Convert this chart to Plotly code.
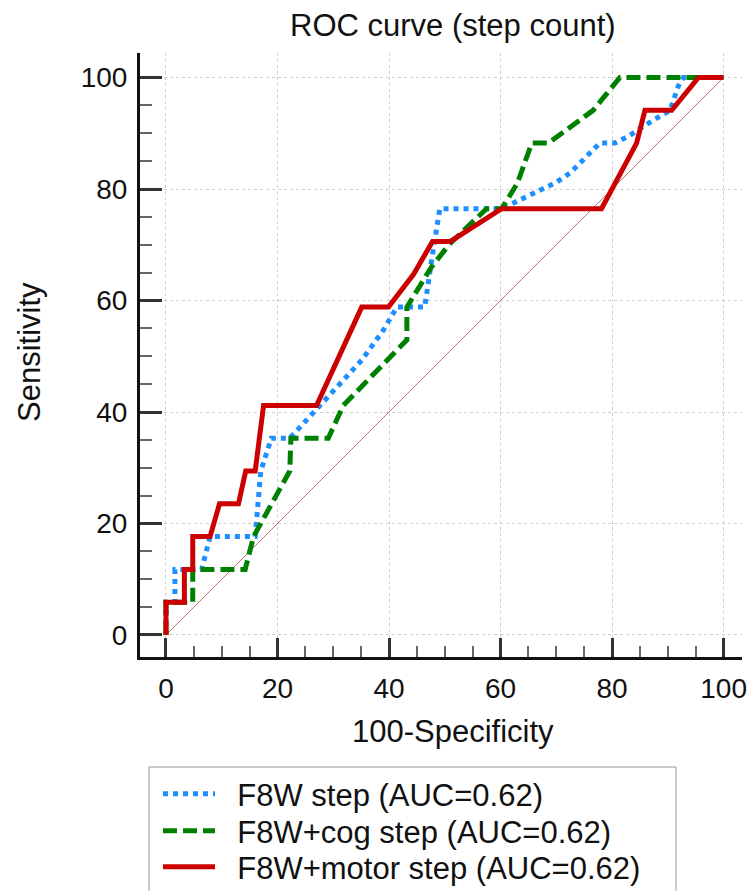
import plotly.graph_objects as go

# 100-Specificity (x) and Sensitivity (y) for each ROC curve
blue_x = [0, 0, 1.6, 1.6, 6.4, 7.9, 16.0, 17.0, 18.9, 22.2, 35.1, 39.0, 41.4, 46.4, 47.6, 49.1,
          60.2, 62.5, 66.0, 70.0, 72.5, 75.0, 77.8, 80.5, 83.0, 86.0, 90.4, 91.9, 92.8, 100]
blue_y = [0, 5.88, 5.88, 11.76, 11.76, 17.65, 17.65, 29.41, 35.29, 35.29, 49.3, 54.7, 58.82, 58.82, 67.0, 76.47,
          76.47, 77.6, 79.4, 81.2, 82.9, 85.3, 88.24, 88.24, 89.5, 91.5, 94.12, 98.5, 100, 100]

green_x = [0, 0, 4.8, 4.8, 14.2, 15.7, 22.2, 22.4, 29.1, 31.8, 43.2, 43.2, 47.6, 50.9, 57.5, 60.2,
           63.0, 65.6, 68.6, 76.6, 81.4, 100]
green_y = [0, 5.88, 5.88, 11.76, 11.76, 17.65, 29.41, 35.29, 35.29, 41.18, 52.94, 58.82, 66.0, 70.2, 76.47, 76.47,
           81.0, 88.24, 88.24, 94.12, 100, 100]

red_x = [0, 0, 3.3, 3.3, 4.8, 4.8, 7.9, 9.6, 13.0, 14.3, 16.0, 17.5, 27.0, 35.1, 39.9, 44.4, 47.8, 51.0,
         60.2, 78.1, 84.4, 85.9, 90.7, 95.5, 100]
red_y = [0, 5.88, 5.88, 11.76, 11.76, 17.65, 17.65, 23.53, 23.53, 29.41, 29.41, 41.18, 41.18, 58.82, 58.82,
         64.71, 70.59, 70.59, 76.47, 76.47, 88.24, 94.12, 94.12, 100, 100]

diag_x = [0, 100]
diag_y = [0, 100]

names = ["F8W step (AUC=0.62)", "F8W+cog step (AUC=0.62)", "F8W+motor step (AUC=0.62)"]
tick_vals = [0, 20, 40, 60, 80, 100]

FONT = "Liberation Sans, Arial, sans-serif"
TXT = "#111111"
PAD = "\u00a0\u00a0"

fig = go.Figure()
fig.add_trace(go.Scatter(x=diag_x, y=diag_y, mode="lines", showlegend=False,
                         line=dict(color="rgba(170,80,80,0.8)", width=1), hoverinfo="skip"))
fig.add_trace(go.Scatter(x=blue_x, y=blue_y, mode="lines", name=PAD + names[0], legend="legend",
                         line=dict(color="#1E8FFF", width=5, dash="5px,5px")))
fig.add_trace(go.Scatter(x=green_x, y=green_y, mode="lines", name=PAD + names[1], legend="legend2",
                         line=dict(color="#008000", width=5, dash="14px,6px")))
fig.add_trace(go.Scatter(x=red_x, y=red_y, mode="lines", name=PAD + names[2], legend="legend3",
                         line=dict(color="#CC0000", width=5)))


def axis(ticklen, minorlen, standoff):
    return dict(
        showline=True, linewidth=3, linecolor="#111111", mirror=False,
        ticks="inside", ticklen=ticklen, tickwidth=3, tickcolor="#333333",
        tickvals=tick_vals, ticktext=[str(v) for v in tick_vals],
        ticklabelstandoff=standoff,
        showgrid=True, gridcolor="#cfcfcf", gridwidth=1, griddash="dot",
        zeroline=False, tickfont=dict(family=FONT, size=28, color=TXT),
        minor=dict(dtick=5, tick0=0, ticks="inside", ticklen=minorlen, tickwidth=2,
                   tickcolor="#666666", showgrid=False),
    )


def leg(py):
    return dict(x=(158 - 140) / 602, y=(657 - py) / 604, xanchor="left", yanchor="middle",
                bgcolor="rgba(0,0,0,0)", borderwidth=0, itemwidth=52,
                font=dict(family=FONT, size=31, color=TXT))


fig.update_layout(
    width=753, height=891,
    margin=dict(l=140, r=11, t=53, b=234, autoexpand=False),
    plot_bgcolor="white", paper_bgcolor="white",
    font=dict(family=FONT, size=28, color=TXT),
    xaxis=dict(range=[-4.66, 103.3], **axis(19, 11, 4)),
    yaxis=dict(range=[-3.95, 104.4], **axis(22, 12, 4)),
    showlegend=True,
    legend=leg(794), legend2=leg(831), legend3=leg(867),
)

fig.add_annotation(text="ROC curve (step count)", xref="paper", yref="paper",
                   x=0.52, y=1.0, yshift=28, showarrow=False, yanchor="middle",
                   font=dict(family=FONT, size=31, color=TXT))
fig.add_annotation(text="100-Specificity", xref="paper", yref="paper",
                   x=0.52, y=0, yshift=-74, showarrow=False, yanchor="middle",
                   font=dict(family=FONT, size=31, color=TXT))
fig.add_annotation(text="Sensitivity", xref="paper", yref="paper",
                   x=0, xshift=-110, y=0.505, showarrow=False, textangle=-90,
                   xanchor="center", yanchor="middle",
                   font=dict(family=FONT, size=31, color=TXT))

fig.add_shape(type="rect", xref="paper", yref="paper",
              x0=9 / 602, x1=536 / 602, y0=(657 - 767) / 604, y1=-0.40,
              line=dict(color="#999999", width=1), fillcolor="rgba(0,0,0,0)")

fig.write_html("out.html", config={"displayModeBar": False},
               post_script="document.body.style.margin='0';")
